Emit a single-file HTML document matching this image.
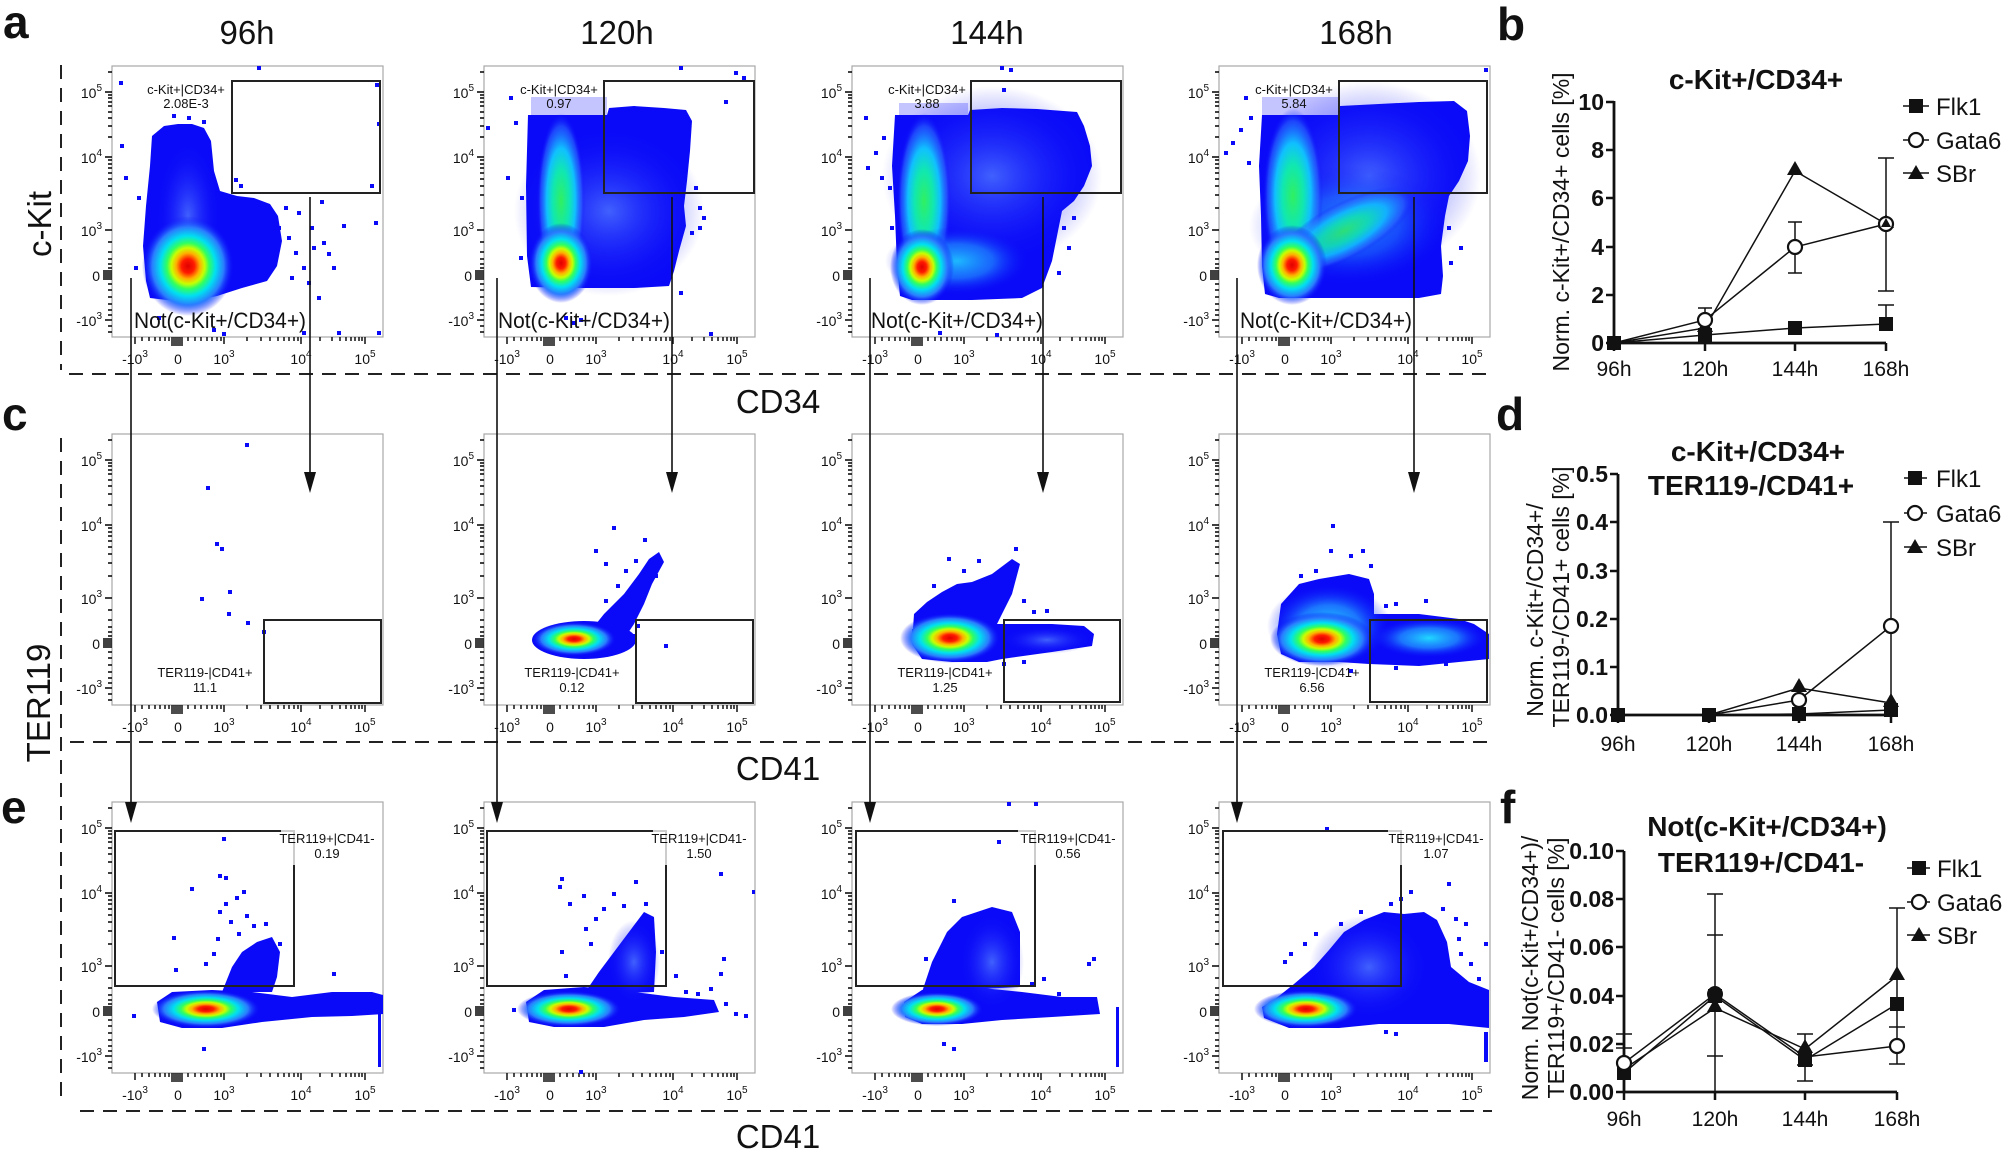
<!DOCTYPE html>
<html><head><meta charset="utf-8">
<style>
html,body{margin:0;padding:0;background:#fff;}
svg{display:block;font-family:"Liberation Sans",Arial,sans-serif;}
.tl{font-size:14px;fill:#111;}
.sp{font-size:10px;}
.gl{font-size:13px;fill:#111;}
.nt{font-size:22px;fill:#111;}
.big{font-size:33px;fill:#111;}
.let{font-size:46px;font-weight:bold;fill:#111;}
.ct{font-size:28px;font-weight:bold;fill:#111;}
.yt{font-size:23px;font-weight:bold;fill:#111;}
.xt{font-size:21px;fill:#111;}
.yl{font-size:23px;fill:#111;}
.lg{font-size:24px;fill:#111;}
.box{fill:#fff;stroke:#a8a8a8;stroke-width:1.2;}
.gate{fill:none;stroke:#222;stroke-width:2;}
.dash{stroke:#222;stroke-width:2;stroke-dasharray:14 9;fill:none;}
.arr{stroke:#111;stroke-width:1.6;fill:none;}
.bl{fill:#0a0af8;}
</style></head>
<body>
<svg width="2007" height="1152" viewBox="0 0 2007 1152" xmlns="http://www.w3.org/2000/svg">
<defs>
<radialGradient id="jet" cx="50%" cy="50%" r="50%">
 <stop offset="0" stop-color="#e00000"/>
 <stop offset="0.14" stop-color="#ff1a00"/>
 <stop offset="0.26" stop-color="#ffb000"/>
 <stop offset="0.36" stop-color="#c8ff00"/>
 <stop offset="0.46" stop-color="#30ff60"/>
 <stop offset="0.6" stop-color="#00e0f0"/>
 <stop offset="0.78" stop-color="#2a7cff"/>
 <stop offset="1" stop-color="#0a0af8" stop-opacity="0"/>
</radialGradient>
<radialGradient id="col" cx="50%" cy="50%" r="50%">
 <stop offset="0" stop-color="#30f060"/>
 <stop offset="0.35" stop-color="#10e8b0"/>
 <stop offset="0.6" stop-color="#10c0ff"/>
 <stop offset="0.85" stop-color="#2a6cff" stop-opacity="0.6"/>
 <stop offset="1" stop-color="#0a0af8" stop-opacity="0"/>
</radialGradient>
<radialGradient id="cy" cx="50%" cy="50%" r="50%">
 <stop offset="0" stop-color="#20d8ff"/>
 <stop offset="0.5" stop-color="#2090ff" stop-opacity="0.8"/>
 <stop offset="1" stop-color="#0a0af8" stop-opacity="0"/>
</radialGradient>
<radialGradient id="lb" cx="50%" cy="50%" r="50%">
 <stop offset="0" stop-color="#4a70ff" stop-opacity="0.85"/>
 <stop offset="1" stop-color="#0a0af8" stop-opacity="0"/>
</radialGradient>
<g id="tk">
<path fill="none" stroke="#000" stroke-width="1.4" d="M-7,26H0 M-7,91H0 M-7,164H0 M-7,254H0 M-4,6H0 M-4,29H0 M-4,32H0 M-4,36H0 M-4,40H0 M-4,46H0 M-4,52H0 M-4,60H0 M-4,71H0 M-4,94H0 M-4,98H0 M-4,102H0 M-4,107H0 M-4,113H0 M-4,120H0 M-4,129H0 M-4,142H0 M-4,176H0 M-4,186H0 M-4,193H0 M-4,198H0 M-4,202H0 M-4,218H0 M-4,224H0 M-4,231H0 M-4,238H0 M-4,244H0 M-4,249H0 M-4,260H0 M-4,266H0 M-9,205H0 M-9,207H0 M-9,209H0 M-9,211H0 M-9,213H0 M23,271V278 M112,271V278 M189,271V278 M253,271V278 M30,271V275 M37,271V275 M43,271V275 M48,271V275 M53,271V275 M57,271V275 M76,271V275 M83,271V275 M89,271V275 M95,271V275 M100,271V275 M105,271V275 M109,271V275 M135,271V275 M149,271V275 M158,271V275 M166,271V275 M172,271V275 M177,271V275 M182,271V275 M186,271V275 M208,271V275 M220,271V275 M228,271V275 M234,271V275 M239,271V275 M243,271V275 M247,271V275 M250,271V275 M60,271V280 M62,271V280 M64,271V280 M66,271V280 M68,271V280 M70,271V280"/>
</g>
</defs>

<!-- panel letters / titles -->
<text class="let" x="3" y="38">a</text>
<text class="let" x="1497" y="40">b</text>
<text class="let" x="2" y="430">c</text>
<text class="let" x="1496" y="430">d</text>
<text class="let" x="1" y="823">e</text>
<text class="let" x="1500" y="823">f</text>
<text class="big" x="247" y="44" text-anchor="middle">96h</text>
<text class="big" x="617" y="44" text-anchor="middle">120h</text>
<text class="big" x="987" y="44" text-anchor="middle">144h</text>
<text class="big" x="1356" y="44" text-anchor="middle">168h</text>
<text class="big" x="778" y="413" text-anchor="middle">CD34</text>
<text class="big" x="778" y="780" text-anchor="middle">CD41</text>
<text class="big" x="778" y="1148" text-anchor="middle">CD41</text>
<text class="big" transform="translate(51,224) rotate(-90)" text-anchor="middle">c-Kit</text>
<text class="big" transform="translate(50,703) rotate(-90)" text-anchor="middle">TER119</text>

<!-- dashed frame lines -->
<path class="dash" d="M61,65 V370 M61,438 V1103 M69,374 H1492 M70,742 H1492 M80,1111 H1492"/>

<!-- ================= ROW A ================= -->
<!-- 96h -->
<g transform="translate(112,66)">
<rect class="box" x="0" y="0" width="271" height="271"/>
<use href="#tk"/>
<path class="bl" d="M40,70 L52,60 L66,58 L80,58 L92,62 L99,75 L102,105 L108,125 L125,130 L142,132 L158,138 L166,150 L170,175 L165,200 L155,215 L130,222 L105,230 L80,235 L55,234 L38,232 L34,215 L31,180 L34,140 L38,100 Z"/>
<g class="bl"><rect x="150" y="150" width="4" height="4"/><rect x="165" y="160" width="4" height="4"/><rect x="175" y="170" width="4" height="4"/><rect x="182" y="185" width="4" height="4"/><rect x="190" y="200" width="4" height="4"/><rect x="178" y="210" width="4" height="4"/><rect x="195" y="215" width="4" height="4"/><rect x="200" y="180" width="4" height="4"/><rect x="210" y="175" width="4" height="4"/><rect x="215" y="186" width="4" height="4"/><rect x="185" y="145" width="4" height="4"/><rect x="172" y="140" width="4" height="4"/><rect x="60" y="48" width="4" height="4"/><rect x="75" y="50" width="4" height="4"/><rect x="90" y="54" width="4" height="4"/><rect x="25" y="130" width="4" height="4"/><rect x="22" y="200" width="4" height="4"/><rect x="45" y="250" width="4" height="4"/><rect x="12" y="110" width="4" height="4"/><rect x="8" y="78" width="4" height="4"/><rect x="7" y="15" width="4" height="4"/><rect x="122" y="112" width="4" height="4"/><rect x="127" y="118" width="4" height="4"/><rect x="198" y="160" width="4" height="4"/><rect x="230" y="158" width="4" height="4"/><rect x="262" y="155" width="4" height="4"/><rect x="258" y="118" width="4" height="4"/><rect x="265" y="56" width="4" height="4"/><rect x="263" y="17" width="4" height="4"/><rect x="145" y="0" width="4" height="4"/><rect x="208" y="134" width="4" height="4"/><rect x="220" y="200" width="4" height="4"/><rect x="205" y="230" width="4" height="4"/><rect x="190" y="265" width="4" height="4"/><rect x="225" y="265" width="4" height="4"/><rect x="265" y="265" width="4" height="4"/><rect x="100" y="262" width="4" height="4"/><rect x="110" y="266" width="4" height="4"/></g>
<ellipse cx="76" cy="150" rx="32" ry="75" fill="url(#lb)"/>
<ellipse cx="76" cy="200" rx="46" ry="50" fill="url(#jet)"/>
<rect class="gate" x="120" y="15" width="148" height="112"/>
<text class="gl" x="74" y="28" text-anchor="middle">c-Kit+|CD34+</text>
<text class="gl" x="74" y="42" text-anchor="middle">2.08E-3</text>
<text class="nt" x="22" y="262" textLength="172" lengthAdjust="spacingAndGlyphs">Not(c-Kit+/CD34+)</text>
<g class="tl"><text x="-10" y="32" text-anchor="end">10<tspan dy="-7" class="sp">5</tspan></text><text x="-10" y="97" text-anchor="end">10<tspan dy="-7" class="sp">4</tspan></text><text x="-10" y="170" text-anchor="end">10<tspan dy="-7" class="sp">3</tspan></text><text x="-12" y="215" text-anchor="end">0</text><text x="-10" y="260" text-anchor="end">-10<tspan dy="-7" class="sp">3</tspan></text><text x="23" y="298" text-anchor="middle">-10<tspan dy="-7" class="sp">3</tspan></text><text x="66" y="298" text-anchor="middle">0</text><text x="112" y="298" text-anchor="middle">10<tspan dy="-7" class="sp">3</tspan></text><text x="189" y="298" text-anchor="middle">10<tspan dy="-7" class="sp">4</tspan></text><text x="253" y="298" text-anchor="middle">10<tspan dy="-7" class="sp">5</tspan></text></g>
</g>

<!-- 120h -->
<g transform="translate(484,66)">
<rect class="box" x="0" y="0" width="271" height="271"/>
<use href="#tk"/>
<rect x="47" y="31" width="76" height="18" fill="#c4c4ff"/>
<path class="bl" d="M44,49 L123,49 L125,42 L150,40 L180,42 L202,44 L208,55 L206,85 L203,115 L200,140 L202,160 L195,185 L190,205 L185,220 L150,222 L100,222 L47,221 L43,190 L42,120 Z"/>
<g class="bl"><rect x="25" y="30" width="4" height="4"/><rect x="30" y="55" width="4" height="4"/><rect x="22" y="110" width="4" height="4"/><rect x="36" y="130" width="4" height="4"/><rect x="35" y="190" width="4" height="4"/><rect x="210" y="120" width="4" height="4"/><rect x="214" y="140" width="4" height="4"/><rect x="206" y="165" width="4" height="4"/><rect x="214" y="160" width="4" height="4"/><rect x="218" y="150" width="4" height="4"/><rect x="195" y="225" width="4" height="4"/><rect x="240" y="34" width="4" height="4"/><rect x="250" y="5" width="4" height="4"/><rect x="258" y="10" width="4" height="4"/><rect x="195" y="0" width="4" height="4"/><rect x="80" y="250" width="4" height="4"/><rect x="88" y="255" width="4" height="4"/><rect x="95" y="252" width="4" height="4"/><rect x="225" y="266" width="4" height="4"/><rect x="2" y="60" width="4" height="4"/></g>
<ellipse cx="125" cy="145" rx="95" ry="85" fill="url(#lb)"/>
<ellipse cx="77" cy="135" rx="24" ry="88" fill="url(#col)"/>
<ellipse cx="77" cy="197" rx="32" ry="40" fill="url(#jet)"/>
<rect class="gate" x="120" y="15" width="150" height="112"/>
<text class="gl" x="75" y="28" text-anchor="middle">c-Kit+|CD34+</text>
<text class="gl" x="75" y="42" text-anchor="middle">0.97</text>
<text class="nt" x="14" y="262" textLength="172" lengthAdjust="spacingAndGlyphs">Not(c-Kit+/CD34+)</text>
<g class="tl"><text x="-10" y="32" text-anchor="end">10<tspan dy="-7" class="sp">5</tspan></text><text x="-10" y="97" text-anchor="end">10<tspan dy="-7" class="sp">4</tspan></text><text x="-10" y="170" text-anchor="end">10<tspan dy="-7" class="sp">3</tspan></text><text x="-12" y="215" text-anchor="end">0</text><text x="-10" y="260" text-anchor="end">-10<tspan dy="-7" class="sp">3</tspan></text><text x="23" y="298" text-anchor="middle">-10<tspan dy="-7" class="sp">3</tspan></text><text x="66" y="298" text-anchor="middle">0</text><text x="112" y="298" text-anchor="middle">10<tspan dy="-7" class="sp">3</tspan></text><text x="189" y="298" text-anchor="middle">10<tspan dy="-7" class="sp">4</tspan></text><text x="253" y="298" text-anchor="middle">10<tspan dy="-7" class="sp">5</tspan></text></g>
</g>

<!-- 144h -->
<g transform="translate(852,66)">
<rect class="box" x="0" y="0" width="271" height="271"/>
<use href="#tk"/>
<rect x="47" y="37" width="69" height="12" fill="#c4c4ff"/>
<path class="bl" d="M43,49 L116,49 L118,44 L150,42 L185,43 L225,46 L232,60 L238,80 L240,100 L232,120 L222,135 L210,145 L205,170 L200,195 L190,222 L170,232 L120,234 L60,234 L48,230 L45,200 L43,150 L40,100 Z"/>
<g class="bl"><rect x="30" y="70" width="4" height="4"/><rect x="22" y="85" width="4" height="4"/><rect x="14" y="100" width="4" height="4"/><rect x="28" y="110" width="4" height="4"/><rect x="36" y="120" width="4" height="4"/><rect x="38" y="160" width="4" height="4"/><rect x="210" y="160" width="4" height="4"/><rect x="215" y="180" width="4" height="4"/><rect x="220" y="150" width="4" height="4"/><rect x="205" y="205" width="4" height="4"/><rect x="148" y="0" width="4" height="4"/><rect x="157" y="2" width="4" height="4"/><rect x="150" y="22" width="4" height="4"/><rect x="86" y="265" width="4" height="4"/><rect x="143" y="267" width="4" height="4"/><rect x="12" y="50" width="4" height="4"/></g>
<ellipse cx="140" cy="110" rx="110" ry="90" fill="url(#lb)"/>
<ellipse cx="72" cy="135" rx="27" ry="88" fill="url(#col)"/>
<ellipse cx="105" cy="195" rx="72" ry="34" fill="url(#cy)" opacity="0.85"/>
<ellipse cx="70" cy="201" rx="32" ry="38" fill="url(#jet)"/>
<rect class="gate" x="119" y="15" width="150" height="112"/>
<text class="gl" x="75" y="28" text-anchor="middle">c-Kit+|CD34+</text>
<text class="gl" x="75" y="42" text-anchor="middle">3.88</text>
<text class="nt" x="19" y="262" textLength="172" lengthAdjust="spacingAndGlyphs">Not(c-Kit+/CD34+)</text>
<g class="tl"><text x="-10" y="32" text-anchor="end">10<tspan dy="-7" class="sp">5</tspan></text><text x="-10" y="97" text-anchor="end">10<tspan dy="-7" class="sp">4</tspan></text><text x="-10" y="170" text-anchor="end">10<tspan dy="-7" class="sp">3</tspan></text><text x="-12" y="215" text-anchor="end">0</text><text x="-10" y="260" text-anchor="end">-10<tspan dy="-7" class="sp">3</tspan></text><text x="23" y="298" text-anchor="middle">-10<tspan dy="-7" class="sp">3</tspan></text><text x="66" y="298" text-anchor="middle">0</text><text x="112" y="298" text-anchor="middle">10<tspan dy="-7" class="sp">3</tspan></text><text x="189" y="298" text-anchor="middle">10<tspan dy="-7" class="sp">4</tspan></text><text x="253" y="298" text-anchor="middle">10<tspan dy="-7" class="sp">5</tspan></text></g>
</g>

<!-- 168h -->
<g transform="translate(1219,66)">
<rect class="box" x="0" y="0" width="271" height="271"/>
<use href="#tk"/>
<rect x="43" y="31" width="76" height="18" fill="#c4c4ff"/>
<path class="bl" d="M43,49 L119,49 L121,40 L160,38 L200,36 L235,35 L248,45 L251,70 L249,95 L240,115 L230,130 L226,150 L222,180 L224,210 L222,228 L200,232 L120,232 L60,232 L46,228 L43,200 L42,150 L40,100 Z"/>
<g class="bl"><rect x="30" y="50" width="4" height="4"/><rect x="20" y="62" width="4" height="4"/><rect x="12" y="75" width="4" height="4"/><rect x="5" y="85" width="4" height="4"/><rect x="28" y="95" width="4" height="4"/><rect x="25" y="30" width="4" height="4"/><rect x="265" y="2" width="4" height="4"/><rect x="230" y="195" width="4" height="4"/><rect x="240" y="180" width="4" height="4"/><rect x="228" y="160" width="4" height="4"/></g>
<ellipse cx="150" cy="110" rx="112" ry="95" fill="url(#lb)"/>
<ellipse cx="130" cy="160" rx="100" ry="60" fill="url(#cy)" opacity="0.55"/>
<ellipse cx="74" cy="130" rx="30" ry="88" fill="url(#col)"/>
<ellipse cx="125" cy="165" rx="78" ry="28" transform="rotate(-28 125 165)" fill="url(#col)" opacity="0.85"/>
<ellipse cx="73" cy="199" rx="35" ry="40" fill="url(#jet)"/>
<rect class="gate" x="120" y="15" width="148" height="112"/>
<text class="gl" x="75" y="28" text-anchor="middle">c-Kit+|CD34+</text>
<text class="gl" x="75" y="42" text-anchor="middle">5.84</text>
<text class="nt" x="21" y="262" textLength="172" lengthAdjust="spacingAndGlyphs">Not(c-Kit+/CD34+)</text>
<g class="tl"><text x="-10" y="32" text-anchor="end">10<tspan dy="-7" class="sp">5</tspan></text><text x="-10" y="97" text-anchor="end">10<tspan dy="-7" class="sp">4</tspan></text><text x="-10" y="170" text-anchor="end">10<tspan dy="-7" class="sp">3</tspan></text><text x="-12" y="215" text-anchor="end">0</text><text x="-10" y="260" text-anchor="end">-10<tspan dy="-7" class="sp">3</tspan></text><text x="23" y="298" text-anchor="middle">-10<tspan dy="-7" class="sp">3</tspan></text><text x="66" y="298" text-anchor="middle">0</text><text x="112" y="298" text-anchor="middle">10<tspan dy="-7" class="sp">3</tspan></text><text x="189" y="298" text-anchor="middle">10<tspan dy="-7" class="sp">4</tspan></text><text x="253" y="298" text-anchor="middle">10<tspan dy="-7" class="sp">5</tspan></text></g>
</g>

<!-- ================= ROW C ================= -->
<g transform="translate(112,434)">
<rect class="box" x="0" y="0" width="271" height="271"/>
<use href="#tk"/>
<g class="bl"><rect x="133" y="9" width="4" height="4"/><rect x="94" y="52" width="4" height="4"/><rect x="103" y="108" width="4" height="4"/><rect x="108" y="113" width="4" height="4"/><rect x="116" y="156" width="4" height="4"/><rect x="88" y="163" width="4" height="4"/><rect x="115" y="178" width="4" height="4"/><rect x="134" y="187" width="4" height="4"/><rect x="150" y="196" width="4" height="4"/></g>
<rect class="gate" x="152" y="186" width="117" height="83"/>
<text class="gl" x="93" y="243" text-anchor="middle">TER119-|CD41+</text>
<text class="gl" x="93" y="258" text-anchor="middle">11.1</text>
<g class="tl"><text x="-10" y="32" text-anchor="end">10<tspan dy="-7" class="sp">5</tspan></text><text x="-10" y="97" text-anchor="end">10<tspan dy="-7" class="sp">4</tspan></text><text x="-10" y="170" text-anchor="end">10<tspan dy="-7" class="sp">3</tspan></text><text x="-12" y="215" text-anchor="end">0</text><text x="-10" y="260" text-anchor="end">-10<tspan dy="-7" class="sp">3</tspan></text><text x="23" y="298" text-anchor="middle">-10<tspan dy="-7" class="sp">3</tspan></text><text x="66" y="298" text-anchor="middle">0</text><text x="112" y="298" text-anchor="middle">10<tspan dy="-7" class="sp">3</tspan></text><text x="189" y="298" text-anchor="middle">10<tspan dy="-7" class="sp">4</tspan></text><text x="253" y="298" text-anchor="middle">10<tspan dy="-7" class="sp">5</tspan></text></g>
</g>

<g transform="translate(484,434)">
<rect class="box" x="0" y="0" width="271" height="271"/>
<use href="#tk"/>
<path class="bl" d="M100,205 L120,180 L140,160 L155,140 L165,125 L175,118 L180,128 L168,150 L160,170 L150,190 L140,205 L125,215 Z"/>
<g class="bl"><rect x="128" y="92" width="4" height="4"/><rect x="159" y="104" width="4" height="4"/><rect x="110" y="115" width="4" height="4"/><rect x="180" y="210" width="4" height="4"/><rect x="140" y="135" width="4" height="4"/><rect x="150" y="125" width="4" height="4"/><rect x="120" y="165" width="4" height="4"/><rect x="132" y="150" width="4" height="4"/><rect x="170" y="140" width="4" height="4"/><rect x="160" y="150" width="4" height="4"/><rect x="152" y="190" width="4" height="4"/><rect x="148" y="200" width="4" height="4"/><rect x="120" y="128" width="4" height="4"/></g>
<ellipse class="bl" cx="100" cy="206" rx="52" ry="19"/>
<ellipse cx="90" cy="205" rx="42" ry="17" fill="url(#jet)"/>
<rect class="gate" x="152" y="186" width="117" height="83"/>
<text class="gl" x="88" y="243" text-anchor="middle">TER119-|CD41+</text>
<text class="gl" x="88" y="258" text-anchor="middle">0.12</text>
<g class="tl"><text x="-10" y="32" text-anchor="end">10<tspan dy="-7" class="sp">5</tspan></text><text x="-10" y="97" text-anchor="end">10<tspan dy="-7" class="sp">4</tspan></text><text x="-10" y="170" text-anchor="end">10<tspan dy="-7" class="sp">3</tspan></text><text x="-12" y="215" text-anchor="end">0</text><text x="-10" y="260" text-anchor="end">-10<tspan dy="-7" class="sp">3</tspan></text><text x="23" y="298" text-anchor="middle">-10<tspan dy="-7" class="sp">3</tspan></text><text x="66" y="298" text-anchor="middle">0</text><text x="112" y="298" text-anchor="middle">10<tspan dy="-7" class="sp">3</tspan></text><text x="189" y="298" text-anchor="middle">10<tspan dy="-7" class="sp">4</tspan></text><text x="253" y="298" text-anchor="middle">10<tspan dy="-7" class="sp">5</tspan></text></g>
</g>

<g transform="translate(852,434)">
<rect class="box" x="0" y="0" width="271" height="271"/>
<use href="#tk"/>
<path class="bl" d="M62,180 L75,168 L90,158 L105,150 L120,148 L140,140 L160,125 L168,130 L160,160 L150,180 L145,190 L200,190 L232,192 L242,200 L240,212 L200,218 L150,225 L135,228 L100,228 L70,225 L60,210 Z"/>
<g class="bl"><rect x="95" y="123" width="4" height="4"/><rect x="125" y="125" width="4" height="4"/><rect x="162" y="113" width="4" height="4"/><rect x="110" y="135" width="4" height="4"/><rect x="80" y="150" width="4" height="4"/><rect x="180" y="176" width="4" height="4"/><rect x="193" y="175" width="4" height="4"/><rect x="170" y="165" width="4" height="4"/><rect x="150" y="228" width="4" height="4"/><rect x="170" y="226" width="4" height="4"/><rect x="60" y="195" width="4" height="4"/></g>
<ellipse cx="195" cy="206" rx="45" ry="14" fill="url(#lb)"/>
<ellipse cx="98" cy="204" rx="50" ry="25" fill="url(#jet)"/>
<rect class="gate" x="152" y="186" width="116" height="82"/>
<text class="gl" x="93" y="243" text-anchor="middle">TER119-|CD41+</text>
<text class="gl" x="93" y="258" text-anchor="middle">1.25</text>
<g class="tl"><text x="-10" y="32" text-anchor="end">10<tspan dy="-7" class="sp">5</tspan></text><text x="-10" y="97" text-anchor="end">10<tspan dy="-7" class="sp">4</tspan></text><text x="-10" y="170" text-anchor="end">10<tspan dy="-7" class="sp">3</tspan></text><text x="-12" y="215" text-anchor="end">0</text><text x="-10" y="260" text-anchor="end">-10<tspan dy="-7" class="sp">3</tspan></text><text x="23" y="298" text-anchor="middle">-10<tspan dy="-7" class="sp">3</tspan></text><text x="66" y="298" text-anchor="middle">0</text><text x="112" y="298" text-anchor="middle">10<tspan dy="-7" class="sp">3</tspan></text><text x="189" y="298" text-anchor="middle">10<tspan dy="-7" class="sp">4</tspan></text><text x="253" y="298" text-anchor="middle">10<tspan dy="-7" class="sp">5</tspan></text></g>
</g>

<g transform="translate(1219,434)">
<rect class="box" x="0" y="0" width="271" height="271"/>
<use href="#tk"/>
<path class="bl" d="M62,170 L80,150 L100,145 L130,140 L150,145 L155,160 L155,180 L200,180 L240,185 L255,190 L270,200 L270,225 L240,228 L200,232 L150,230 L120,228 L80,228 L62,220 L58,200 Z"/>
<g class="bl"><rect x="112" y="90" width="4" height="4"/><rect x="110" y="115" width="4" height="4"/><rect x="130" y="120" width="4" height="4"/><rect x="142" y="115" width="4" height="4"/><rect x="150" y="130" width="4" height="4"/><rect x="95" y="135" width="4" height="4"/><rect x="80" y="140" width="4" height="4"/><rect x="165" y="170" width="4" height="4"/><rect x="175" y="168" width="4" height="4"/><rect x="205" y="165" width="4" height="4"/><rect x="225" y="228" width="4" height="4"/><rect x="175" y="232" width="4" height="4"/><rect x="130" y="235" width="4" height="4"/></g>
<ellipse cx="110" cy="192" rx="62" ry="42" fill="url(#cy)"/>
<ellipse cx="210" cy="204" rx="58" ry="20" fill="url(#cy)"/>
<ellipse cx="103" cy="205" rx="52" ry="27" fill="url(#jet)"/>
<rect class="gate" x="151" y="186" width="117" height="82"/>
<text class="gl" x="93" y="243" text-anchor="middle">TER119-|CD41+</text>
<text class="gl" x="93" y="258" text-anchor="middle">6.56</text>
<g class="tl"><text x="-10" y="32" text-anchor="end">10<tspan dy="-7" class="sp">5</tspan></text><text x="-10" y="97" text-anchor="end">10<tspan dy="-7" class="sp">4</tspan></text><text x="-10" y="170" text-anchor="end">10<tspan dy="-7" class="sp">3</tspan></text><text x="-12" y="215" text-anchor="end">0</text><text x="-10" y="260" text-anchor="end">-10<tspan dy="-7" class="sp">3</tspan></text><text x="23" y="298" text-anchor="middle">-10<tspan dy="-7" class="sp">3</tspan></text><text x="66" y="298" text-anchor="middle">0</text><text x="112" y="298" text-anchor="middle">10<tspan dy="-7" class="sp">3</tspan></text><text x="189" y="298" text-anchor="middle">10<tspan dy="-7" class="sp">4</tspan></text><text x="253" y="298" text-anchor="middle">10<tspan dy="-7" class="sp">5</tspan></text></g>
</g>

<!-- ================= ROW E ================= -->
<g transform="translate(112,802)">
<rect class="box" x="0" y="0" width="271" height="271"/>
<use href="#tk"/>
<path class="bl" d="M110,190 L120,165 L130,150 L145,140 L160,135 L168,150 L165,175 L160,190 Z"/>
<g class="bl"><rect x="110" y="35" width="4" height="4"/><rect x="106" y="72" width="4" height="4"/><rect x="112" y="74" width="4" height="4"/><rect x="78" y="85" width="4" height="4"/><rect x="130" y="88" width="4" height="4"/><rect x="123" y="94" width="4" height="4"/><rect x="112" y="100" width="4" height="4"/><rect x="106" y="108" width="4" height="4"/><rect x="133" y="112" width="4" height="4"/><rect x="140" y="122" width="4" height="4"/><rect x="152" y="120" width="4" height="4"/><rect x="117" y="118" width="4" height="4"/><rect x="60" y="134" width="4" height="4"/><rect x="104" y="135" width="4" height="4"/><rect x="125" y="130" width="4" height="4"/><rect x="166" y="140" width="4" height="4"/><rect x="62" y="166" width="4" height="4"/><rect x="92" y="160" width="4" height="4"/><rect x="100" y="150" width="4" height="4"/><rect x="220" y="170" width="4" height="4"/><rect x="20" y="212" width="4" height="4"/><rect x="90" y="245" width="4" height="4"/><rect x="266" y="205" width="3" height="60"/></g>
<path class="bl" d="M45,200 L60,190 L100,188 L140,190 L180,195 L220,190 L260,190 L271,193 L271,212 L240,214 L200,215 L150,220 L110,226 L70,226 L48,220 Z"/>
<ellipse cx="94" cy="207" rx="54" ry="19" fill="url(#jet)"/>
<path fill="none" stroke="#222" stroke-width="2" d="M169,29 H3 V184 H182 V63"/>
<path fill="none" stroke="#ccc" stroke-width="2" d="M169,29 H182 V63"/>
<text class="gl" x="215" y="41" text-anchor="middle">TER119+|CD41-</text>
<text class="gl" x="215" y="56" text-anchor="middle">0.19</text>
<g class="tl"><text x="-10" y="32" text-anchor="end">10<tspan dy="-7" class="sp">5</tspan></text><text x="-10" y="97" text-anchor="end">10<tspan dy="-7" class="sp">4</tspan></text><text x="-10" y="170" text-anchor="end">10<tspan dy="-7" class="sp">3</tspan></text><text x="-12" y="215" text-anchor="end">0</text><text x="-10" y="260" text-anchor="end">-10<tspan dy="-7" class="sp">3</tspan></text><text x="23" y="298" text-anchor="middle">-10<tspan dy="-7" class="sp">3</tspan></text><text x="66" y="298" text-anchor="middle">0</text><text x="112" y="298" text-anchor="middle">10<tspan dy="-7" class="sp">3</tspan></text><text x="189" y="298" text-anchor="middle">10<tspan dy="-7" class="sp">4</tspan></text><text x="253" y="298" text-anchor="middle">10<tspan dy="-7" class="sp">5</tspan></text></g>
</g>

<g transform="translate(484,802)">
<rect class="box" x="0" y="0" width="271" height="271"/>
<use href="#tk"/>
<path class="bl" d="M100,192 L115,170 L130,150 L145,130 L160,110 L170,115 L172,150 L170,190 Z"/>
<g class="bl"><rect x="76" y="75" width="4" height="4"/><rect x="74" y="83" width="4" height="4"/><rect x="84" y="100" width="4" height="4"/><rect x="98" y="92" width="4" height="4"/><rect x="128" y="90" width="4" height="4"/><rect x="150" y="78" width="4" height="4"/><rect x="118" y="105" width="4" height="4"/><rect x="138" y="102" width="4" height="4"/><rect x="160" y="100" width="4" height="4"/><rect x="100" y="125" width="4" height="4"/><rect x="105" y="140" width="4" height="4"/><rect x="110" y="115" width="4" height="4"/><rect x="76" y="148" width="4" height="4"/><rect x="80" y="172" width="4" height="4"/><rect x="176" y="148" width="4" height="4"/><rect x="190" y="172" width="4" height="4"/><rect x="200" y="188" width="4" height="4"/><rect x="212" y="190" width="4" height="4"/><rect x="225" y="185" width="4" height="4"/><rect x="240" y="200" width="4" height="4"/><rect x="250" y="210" width="4" height="4"/><rect x="238" y="155" width="4" height="4"/><rect x="235" y="170" width="4" height="4"/><rect x="235" y="70" width="4" height="4"/><rect x="268" y="88" width="3" height="4"/><rect x="28" y="206" width="4" height="4"/><rect x="95" y="268" width="4" height="4"/><rect x="260" y="212" width="4" height="4"/></g>
<path class="bl" d="M42,200 L60,188 L100,185 L150,190 L190,195 L230,198 L235,210 L200,215 L160,218 L120,225 L70,225 L45,220 Z"/>
<ellipse cx="150" cy="160" rx="26" ry="42" fill="url(#lb)"/>
<ellipse cx="85" cy="207" rx="52" ry="18" fill="url(#jet)"/>
<path fill="none" stroke="#222" stroke-width="2" d="M169,29 H3 V184 H182 V63"/>
<path fill="none" stroke="#ccc" stroke-width="2" d="M169,29 H182 V63"/>
<text class="gl" x="215" y="41" text-anchor="middle">TER119+|CD41-</text>
<text class="gl" x="215" y="56" text-anchor="middle">1.50</text>
<g class="tl"><text x="-10" y="32" text-anchor="end">10<tspan dy="-7" class="sp">5</tspan></text><text x="-10" y="97" text-anchor="end">10<tspan dy="-7" class="sp">4</tspan></text><text x="-10" y="170" text-anchor="end">10<tspan dy="-7" class="sp">3</tspan></text><text x="-12" y="215" text-anchor="end">0</text><text x="-10" y="260" text-anchor="end">-10<tspan dy="-7" class="sp">3</tspan></text><text x="23" y="298" text-anchor="middle">-10<tspan dy="-7" class="sp">3</tspan></text><text x="66" y="298" text-anchor="middle">0</text><text x="112" y="298" text-anchor="middle">10<tspan dy="-7" class="sp">3</tspan></text><text x="189" y="298" text-anchor="middle">10<tspan dy="-7" class="sp">4</tspan></text><text x="253" y="298" text-anchor="middle">10<tspan dy="-7" class="sp">5</tspan></text></g>
</g>

<g transform="translate(852,802)">
<rect class="box" x="0" y="0" width="271" height="271"/>
<use href="#tk"/>
<path class="bl" d="M70,190 L80,160 L95,130 L110,115 L140,105 L160,110 L168,130 L168,185 Z"/>
<g class="bl"><rect x="155" y="0" width="4" height="4"/><rect x="182" y="0" width="4" height="4"/><rect x="145" y="38" width="4" height="4"/><rect x="146" y="113" width="4" height="4"/><rect x="100" y="97" width="4" height="4"/><rect x="112" y="118" width="4" height="4"/><rect x="72" y="155" width="4" height="4"/><rect x="178" y="180" width="4" height="4"/><rect x="190" y="175" width="4" height="4"/><rect x="205" y="190" width="4" height="4"/><rect x="240" y="155" width="4" height="4"/><rect x="235" y="160" width="4" height="4"/><rect x="264" y="205" width="3" height="60"/><rect x="90" y="240" width="4" height="4"/><rect x="100" y="245" width="4" height="4"/></g>
<path class="bl" d="M52,200 L70,188 L120,185 L170,190 L210,195 L245,195 L248,212 L200,215 L150,218 L110,222 L70,222 L53,215 Z"/>
<ellipse cx="140" cy="160" rx="32" ry="48" fill="url(#lb)"/>
<ellipse cx="85" cy="207" rx="46" ry="17" fill="url(#jet)"/>
<path fill="none" stroke="#222" stroke-width="2" d="M166,29 H4 V184 H183 V63"/>
<path fill="none" stroke="#ccc" stroke-width="2" d="M166,29 H183 V63"/>
<text class="gl" x="216" y="41" text-anchor="middle">TER119+|CD41-</text>
<text class="gl" x="216" y="56" text-anchor="middle">0.56</text>
<g class="tl"><text x="-10" y="32" text-anchor="end">10<tspan dy="-7" class="sp">5</tspan></text><text x="-10" y="97" text-anchor="end">10<tspan dy="-7" class="sp">4</tspan></text><text x="-10" y="170" text-anchor="end">10<tspan dy="-7" class="sp">3</tspan></text><text x="-12" y="215" text-anchor="end">0</text><text x="-10" y="260" text-anchor="end">-10<tspan dy="-7" class="sp">3</tspan></text><text x="23" y="298" text-anchor="middle">-10<tspan dy="-7" class="sp">3</tspan></text><text x="66" y="298" text-anchor="middle">0</text><text x="112" y="298" text-anchor="middle">10<tspan dy="-7" class="sp">3</tspan></text><text x="189" y="298" text-anchor="middle">10<tspan dy="-7" class="sp">4</tspan></text><text x="253" y="298" text-anchor="middle">10<tspan dy="-7" class="sp">5</tspan></text></g>
</g>

<g transform="translate(1219,802)">
<rect class="box" x="0" y="0" width="271" height="271"/>
<use href="#tk"/>
<path class="bl" d="M55,198 L75,182 L95,165 L110,148 L125,130 L145,118 L165,110 L185,112 L205,110 L218,118 L228,140 L232,165 L250,180 L270,188 L270,226 L230,222 L160,222 L120,226 L70,226 L45,216 L43,205 Z"/>
<g class="bl"><rect x="106" y="25" width="4" height="4"/><rect x="180" y="95" width="4" height="4"/><rect x="190" y="88" width="4" height="4"/><rect x="170" y="100" width="4" height="4"/><rect x="228" y="80" width="4" height="4"/><rect x="235" y="115" width="4" height="4"/><rect x="245" y="120" width="4" height="4"/><rect x="222" y="105" width="4" height="4"/><rect x="238" y="135" width="4" height="4"/><rect x="240" y="150" width="4" height="4"/><rect x="95" y="130" width="4" height="4"/><rect x="84" y="140" width="4" height="4"/><rect x="70" y="150" width="4" height="4"/><rect x="64" y="158" width="4" height="4"/><rect x="120" y="120" width="4" height="4"/><rect x="140" y="108" width="4" height="4"/><rect x="250" y="160" width="4" height="4"/><rect x="258" y="175" width="4" height="4"/><rect x="265" y="140" width="4" height="4"/><rect x="265" y="230" width="4" height="30"/><rect x="165" y="228" width="4" height="4"/><rect x="175" y="230" width="4" height="4"/></g>
<ellipse cx="150" cy="165" rx="60" ry="52" fill="url(#lb)"/>
<ellipse cx="87" cy="207" rx="52" ry="19" fill="url(#jet)"/>
<path fill="none" stroke="#222" stroke-width="2" d="M169,29 H4 V184 H182 V63"/>
<path fill="none" stroke="#ccc" stroke-width="2" d="M169,29 H182 V63"/>
<text class="gl" x="217" y="41" text-anchor="middle">TER119+|CD41-</text>
<text class="gl" x="217" y="56" text-anchor="middle">1.07</text>
<g class="tl"><text x="-10" y="32" text-anchor="end">10<tspan dy="-7" class="sp">5</tspan></text><text x="-10" y="97" text-anchor="end">10<tspan dy="-7" class="sp">4</tspan></text><text x="-10" y="170" text-anchor="end">10<tspan dy="-7" class="sp">3</tspan></text><text x="-12" y="215" text-anchor="end">0</text><text x="-10" y="260" text-anchor="end">-10<tspan dy="-7" class="sp">3</tspan></text><text x="23" y="298" text-anchor="middle">-10<tspan dy="-7" class="sp">3</tspan></text><text x="66" y="298" text-anchor="middle">0</text><text x="112" y="298" text-anchor="middle">10<tspan dy="-7" class="sp">3</tspan></text><text x="189" y="298" text-anchor="middle">10<tspan dy="-7" class="sp">4</tspan></text><text x="253" y="298" text-anchor="middle">10<tspan dy="-7" class="sp">5</tspan></text></g>
</g>

<!-- arrows -->
<path class="arr" d="M131,278 V806 M310,197 V476 M497,278 V806 M672,197 V476 M870,278 V806 M1043,197 V476 M1237,278 V806 M1414,197 V476"/>
<g fill="#111">
<polygon points="125,802 137,802 131,823"/><polygon points="304,472 316,472 310,493"/>
<polygon points="491,802 503,802 497,823"/><polygon points="666,472 678,472 672,493"/>
<polygon points="864,802 876,802 870,823"/><polygon points="1037,472 1049,472 1043,493"/>
<polygon points="1231,802 1243,802 1237,823"/><polygon points="1408,472 1420,472 1414,493"/>
</g>

<!-- ================= PANEL B ================= -->
<g>
<text class="ct" x="1756" y="89" text-anchor="middle">c-Kit+/CD34+</text>
<path d="M1614,101 V343 H1886" fill="none" stroke="#111" stroke-width="2.8"/>
<path d="M1606,343H1614 M1606,295H1614 M1606,247H1614 M1606,198H1614 M1606,150H1614 M1606,102H1614 M1614,343V351 M1705,343V351 M1795,343V351 M1886,343V351" stroke="#111" stroke-width="2.5"/>
<g class="yt" text-anchor="end"><text x="1604" y="351">0</text><text x="1604" y="303">2</text><text x="1604" y="255">4</text><text x="1604" y="206">6</text><text x="1604" y="158">8</text><text x="1604" y="110">10</text></g>
<g class="xt" text-anchor="middle"><text x="1614" y="376">96h</text><text x="1705" y="376">120h</text><text x="1795" y="376">144h</text><text x="1886" y="376">168h</text></g>
<text class="yl" transform="translate(1569,222) rotate(-90)" text-anchor="middle">Norm. c-Kit+/CD34+ cells [%]</text>
<g stroke="#111" stroke-width="1.5" fill="none">
<polyline points="1614,343 1705,335 1795,328 1886,324"/>
<polyline points="1614,343 1705,320 1795,247 1886,224"/>
<polyline points="1614,343 1705,328 1795,171 1886,224"/>
<path d="M1705,308V320 M1698,308H1712 M1795,222V273 M1788,222H1802 M1788,273H1802 M1886,158V291 M1878,158H1894 M1878,291H1894 M1886,305V324 M1878,305H1894"/>
</g>
<g fill="#111"><rect x="1607" y="336" width="14" height="14"/><rect x="1698" y="328" width="14" height="14"/><rect x="1788" y="321" width="14" height="14"/><rect x="1879" y="317" width="14" height="14"/>
<polygon points="1795,161 1803,175 1787,175"/><polygon points="1886,214 1894,228 1878,228"/><polygon points="1705,318 1713,332 1697,332"/></g>
<g fill="#fff" stroke="#111" stroke-width="2.2"><circle cx="1705" cy="320" r="7"/><circle cx="1795" cy="247" r="7"/><circle cx="1886" cy="224" r="7"/></g>
<polygon points="1886,218 1891,227 1881,227" fill="#111"/>
<circle cx="1614" cy="343" r="7" fill="#111"/>
<!-- legend -->
<path d="M1903,106H1929 M1903,140H1929 M1903,173H1929" stroke="#111" stroke-width="1.5"/>
<rect x="1909" y="99" width="14" height="14" fill="#111"/>
<circle cx="1916" cy="140" r="7" fill="#fff" stroke="#111" stroke-width="2.2"/>
<polygon points="1916,165 1924,179 1908,179" fill="#111"/>
<g class="lg"><text x="1936" y="115">Flk1</text><text x="1936" y="149">Gata6</text><text x="1936" y="182">SBr</text></g>
</g>

<!-- ================= PANEL D ================= -->
<g>
<text class="ct" x="1758" y="461" text-anchor="middle">c-Kit+/CD34+</text>
<text class="ct" x="1751" y="495" text-anchor="middle">TER119-/CD41+</text>
<path d="M1618,474 V715 H1891" fill="none" stroke="#111" stroke-width="2.8"/>
<path d="M1610,715H1618 M1610,667H1618 M1610,619H1618 M1610,571H1618 M1610,522H1618 M1610,474H1618 M1618,715V723 M1709,715V723 M1799,715V723 M1891,715V723" stroke="#111" stroke-width="2.5"/>
<g class="yt" text-anchor="end"><text x="1608" y="723">0.0</text><text x="1608" y="675">0.1</text><text x="1608" y="627">0.2</text><text x="1608" y="579">0.3</text><text x="1608" y="530">0.4</text><text x="1608" y="482">0.5</text></g>
<g class="xt" text-anchor="middle"><text x="1618" y="751">96h</text><text x="1709" y="751">120h</text><text x="1799" y="751">144h</text><text x="1891" y="751">168h</text></g>
<text class="yl" transform="translate(1543,610) rotate(-90)" text-anchor="middle">Norm. c-Kit+/CD34+/</text>
<text class="yl" transform="translate(1569,597) rotate(-90)" text-anchor="middle">TER119-/CD41+ cells [%]</text>
<g stroke="#111" stroke-width="1.5" fill="none">
<polyline points="1618,715 1709,715 1799,714 1891,710"/>
<polyline points="1618,715 1709,715 1799,700 1891,626"/>
<polyline points="1618,715 1709,715 1799,688 1891,703"/>
<path d="M1891,522V715 M1883,522H1899"/>
</g>
<g fill="#111"><rect x="1611" y="708" width="14" height="14"/><rect x="1702" y="708" width="14" height="14"/><rect x="1792" y="707" width="14" height="14"/><rect x="1884" y="703" width="14" height="14"/>
<polygon points="1799,678 1807,692 1791,692"/><polygon points="1891,693 1899,707 1883,707"/>
<circle cx="1618" cy="715" r="7"/><circle cx="1709" cy="715" r="7"/></g>
<g fill="#fff" stroke="#111" stroke-width="2.2"><circle cx="1799" cy="700" r="7"/><circle cx="1891" cy="626" r="7"/></g>
<path d="M1904,478H1927 M1904,513H1927 M1904,547H1927" stroke="#111" stroke-width="1.5"/>
<rect x="1908" y="471" width="14" height="14" fill="#111"/>
<circle cx="1915" cy="513" r="7" fill="#fff" stroke="#111" stroke-width="2.2"/>
<polygon points="1915,539 1923,553 1907,553" fill="#111"/>
<g class="lg"><text x="1936" y="487">Flk1</text><text x="1936" y="522">Gata6</text><text x="1936" y="556">SBr</text></g>
</g>

<!-- ================= PANEL F ================= -->
<g>
<text class="ct" x="1767" y="836" text-anchor="middle">Not(c-Kit+/CD34+)</text>
<text class="ct" x="1761" y="872" text-anchor="middle">TER119+/CD41-</text>
<path d="M1624,851 V1092 H1897" fill="none" stroke="#111" stroke-width="2.8"/>
<path d="M1616,1092H1624 M1616,1044H1624 M1616,996H1624 M1616,947H1624 M1616,899H1624 M1616,851H1624 M1624,1092V1100 M1715,1092V1100 M1805,1092V1100 M1897,1092V1100" stroke="#111" stroke-width="2.5"/>
<g class="yt" text-anchor="end"><text x="1614" y="1100">0.00</text><text x="1614" y="1052">0.02</text><text x="1614" y="1004">0.04</text><text x="1614" y="955">0.06</text><text x="1614" y="907">0.08</text><text x="1614" y="859">0.10</text></g>
<g class="xt" text-anchor="middle"><text x="1624" y="1126">96h</text><text x="1715" y="1126">120h</text><text x="1805" y="1126">144h</text><text x="1897" y="1126">168h</text></g>
<text class="yl" transform="translate(1538,968) rotate(-90)" text-anchor="middle">Norm. Not(c-Kit+/CD34+)/</text>
<text class="yl" transform="translate(1564,968) rotate(-90)" text-anchor="middle">TER119+/CD41- cells [%]</text>
<g stroke="#111" stroke-width="1.5" fill="none">
<polyline points="1624,1073 1715,996 1805,1060 1897,1004"/>
<polyline points="1624,1063 1715,994 1805,1057 1897,1046"/>
<polyline points="1624,1069 1715,1008 1805,1049 1897,976"/>
<path d="M1624,1034V1092 M1616,1034H1632 M1616,1048H1632 M1715,894V1092 M1707,894H1723 M1707,935H1723 M1707,1056H1723 M1805,1034V1081 M1797,1034H1813 M1797,1065H1813 M1797,1081H1813 M1897,908V1064 M1889,908H1905 M1889,1027H1905 M1889,1064H1905"/>
</g>
<g fill="#111"><rect x="1617" y="1066" width="14" height="14"/><rect x="1708" y="989" width="14" height="14"/><rect x="1798" y="1053" width="14" height="14"/><rect x="1890" y="997" width="14" height="14"/>
<polygon points="1715,998 1723,1012 1707,1012"/><polygon points="1805,1039 1813,1053 1797,1053"/><polygon points="1897,966 1905,980 1889,980"/><circle cx="1715" cy="994" r="8"/></g>
<g fill="#fff" stroke="#111" stroke-width="2.2"><circle cx="1624" cy="1063" r="7"/><circle cx="1897" cy="1046" r="7"/></g>
<path d="M1907,868H1930 M1907,902H1930 M1907,935H1930" stroke="#111" stroke-width="1.5"/>
<rect x="1912" y="861" width="14" height="14" fill="#111"/>
<circle cx="1919" cy="902" r="7" fill="#fff" stroke="#111" stroke-width="2.2"/>
<polygon points="1919,927 1927,941 1911,941" fill="#111"/>
<g class="lg"><text x="1937" y="877">Flk1</text><text x="1937" y="911">Gata6</text><text x="1937" y="944">SBr</text></g>
</g>
</svg>
</body></html>
